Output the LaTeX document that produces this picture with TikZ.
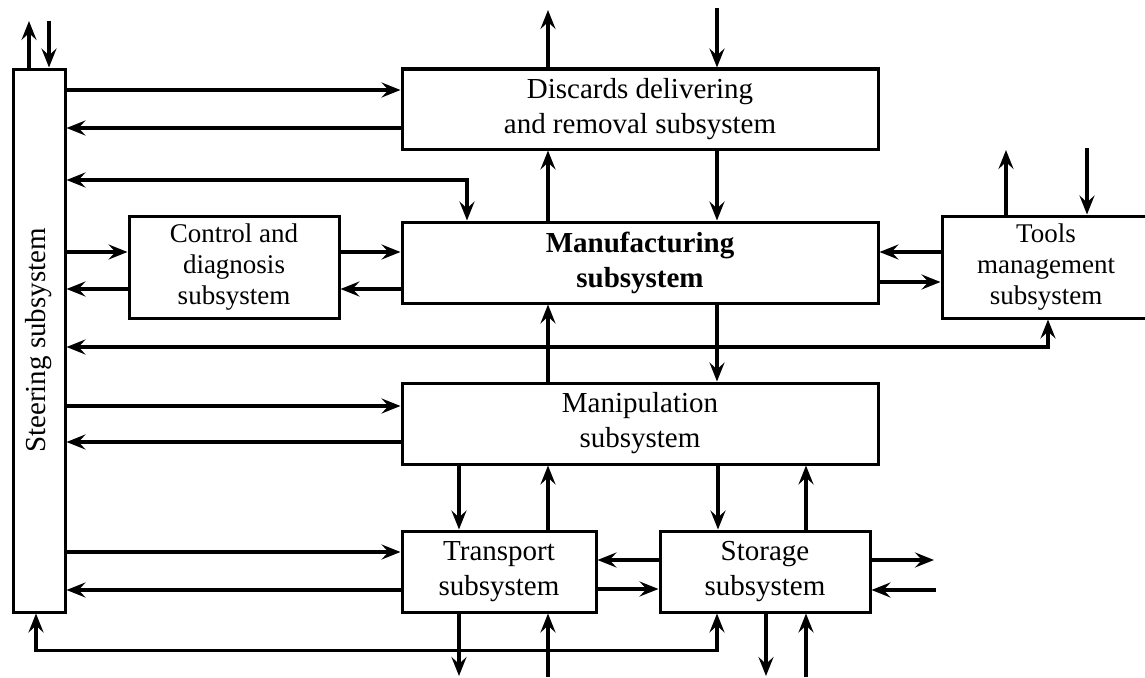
\documentclass[tikz,border=0pt]{standalone}
\usepackage{fontspec}
\setmainfont{Liberation Serif}
\usetikzlibrary{arrows.meta}
\begin{document}
\begin{tikzpicture}[x=1pt,y=-1pt,
  tip/.tip={Stealth[length=19pt,width=15pt,inset=7pt]},
  box/.style={draw, line width=3pt, inner sep=0pt, align=center,
    font=\fontsize{29}{35}\selectfont},
  smallbox/.style={box, font=\fontsize{27}{31}\selectfont},
  arr/.style={line width=3.4pt, -tip},
  darr/.style={line width=3.4pt, tip-tip}]
\useasboundingbox (0,0) rectangle (1145,677);

% subsystems
\node[box, minimum width=52pt, minimum height=543pt] (steer) at (39,340.5)
  {\rotatebox{90}{Steering subsystem}};
\node[box, minimum width=476pt, minimum height=80pt] (disc) at (640,109)
  {Discards delivering\\and removal subsystem};
\node[box, minimum width=476pt, minimum height=81pt] (manu) at (640,262.5)
  {\bfseries Manufacturing\\\bfseries subsystem};
\node[smallbox, minimum width=210pt, minimum height=102pt] (ctrl) at (234,267)
  {Control and\\diagnosis\\subsystem};
\node[smallbox, minimum width=208pt, minimum height=102pt] (tools) at (1046,267)
  {Tools\\management\\subsystem};
\node[box, minimum width=476pt, minimum height=81pt] (manip) at (640,423.5)
  {Manipulation\\subsystem};
\node[box, minimum width=194pt, minimum height=81pt] (trans) at (499,571.5)
  {Transport\\subsystem};
\node[box, minimum width=210pt, minimum height=81pt] (stor) at (765,571.5)
  {Storage\\subsystem};

% free ends of outside connections
\coordinate (stOut) at (29,21);
\coordinate (stIn) at (49,21);
\coordinate (dOut) at (548,10);
\coordinate (dIn) at (717,8);
\coordinate (tOut) at (1006,150);
\coordinate (tIn) at (1087,148);
\coordinate (sROut) at (934,560);
\coordinate (sRIn) at (936,590);
\coordinate (trOut) at (459,676);
\coordinate (trIn) at (548,677);
\coordinate (sbOut) at (766,676);
\coordinate (sbIn) at (806,677);

% outside connections
\draw[arr] (steer.north -| stOut) -- (stOut);
\draw[arr] (stIn) -- (steer.north -| stIn);
\draw[arr] (disc.north -| dOut) -- (dOut);
\draw[arr] (dIn) -- (disc.north -| dIn);
\draw[arr] (tools.north -| tOut) -- (tOut);
\draw[arr] (tIn) -- (tools.north -| tIn);
\draw[arr] (stor.east |- sROut) -- (sROut);
\draw[arr] (sRIn) -- (stor.east |- sRIn);
\draw[arr] (trans.south -| trOut) -- (trOut);
\draw[arr] (trIn) -- (trans.south -| trIn);
\draw[arr] (stor.south -| sbOut) -- (sbOut);
\draw[arr] (sbIn) -- (stor.south -| sbIn);

% steering links
\draw[arr] (steer.east |- 0,90) -- (disc.west |- 0,90);
\draw[arr] (disc.west |- 0,128) -- (steer.east |- 0,128);
\draw[darr] (steer.east |- 0,180) -| (manu.north -| 467,0);
\draw[arr] (steer.east |- 0,252) -- (ctrl.west |- 0,252);
\draw[arr] (ctrl.west |- 0,289) -- (steer.east |- 0,289);
\draw[darr] (steer.east |- 0,347) -| (tools.south -| 1048,0);
\draw[arr] (steer.east |- 0,406) -- (manip.west |- 0,406);
\draw[arr] (manip.west |- 0,442) -- (steer.east |- 0,442);
\draw[arr] (steer.east |- 0,552) -- (trans.west |- 0,552);
\draw[arr] (trans.west |- 0,590) -- (steer.east |- 0,590);
\draw[darr] (steer.south -| 36,0) -- ++(0,37) -| (stor.south -| 717,0);

% control and tools with manufacturing
\draw[arr] (ctrl.east |- 0,252) -- (manu.west |- 0,252);
\draw[arr] (manu.west |- 0,289) -- (ctrl.east |- 0,289);
\draw[arr] (tools.west |- 0,252) -- (manu.east |- 0,252);
\draw[arr] (manu.east |- 0,282) -- (tools.west |- 0,282);

% vertical flow
\draw[arr] (manu.north -| 548,0) -- (disc.south -| 548,0);
\draw[arr] (disc.south -| 717,0) -- (manu.north -| 717,0);
\draw[arr] (manip.north -| 548,0) -- (manu.south -| 548,0);
\draw[arr] (manu.south -| 717,0) -- (manip.north -| 717,0);
\draw[arr] (manip.south -| 459,0) -- (trans.north -| 459,0);
\draw[arr] (trans.north -| 548,0) -- (manip.south -| 548,0);
\draw[arr] (manip.south -| 718,0) -- (stor.north -| 718,0);
\draw[arr] (stor.north -| 806,0) -- (manip.south -| 806,0);

% transport and storage
\draw[arr] (stor.west |- 0,560) -- (trans.east |- 0,560);
\draw[arr] (trans.east |- 0,589) -- (stor.west |- 0,589);
\end{tikzpicture}
\end{document}
